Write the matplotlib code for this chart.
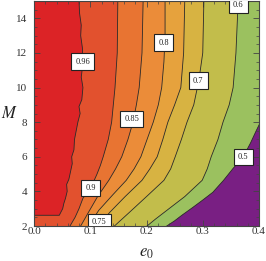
import matplotlib
matplotlib.use("Agg")
import matplotlib.pyplot as plt
from matplotlib.ticker import MultipleLocator

# contour levels (low -> high) and band colours above each level
levels = [0.5, 0.6, 0.7, 0.75, 0.8, 0.85, 0.9, 0.96]
below_color = "#791f83"
band_colors = ["#9bc15f", "#c2bd4b", "#d7b342", "#e6a23d", "#eb8c39",
               "#e87432", "#e2512e", "#dc2326"]

# contour lines: e0 positions at given M
line_050_e = [0.236, 0.250, 0.262, 0.283, 0.300, 0.318, 0.337, 0.354, 0.372, 0.385, 0.395,
              0.410, 0.430, 0.450]
line_050_m = [2.0, 2.3, 2.6, 3.09, 3.5, 3.95, 4.64, 5.33, 6.0, 6.8, 7.5,
              8.5, 11.0, 15.0]

line_060_e = [0.201, 0.216, 0.232, 0.250, 0.268, 0.299, 0.308, 0.315, 0.327, 0.336, 0.347,
              0.354, 0.359, 0.363]
line_060_m = [2.0, 2.4, 2.8, 3.25, 3.7, 4.64, 5.3, 6.0, 7.0, 8.0, 9.0,
              10.0, 12.0, 15.0]

line_070_e = [0.143, 0.170, 0.200, 0.231, 0.243, 0.251, 0.262, 0.272, 0.284, 0.293, 0.300, 0.302]
line_070_m = [2.0, 2.8, 3.7, 4.64, 5.3, 6.0, 7.0, 8.0, 9.0, 10.4, 12.0, 15.0]

line_075_e = [0.114, 0.135, 0.162, 0.192, 0.206, 0.219, 0.229, 0.238, 0.250, 0.261, 0.266, 0.268]
line_075_m = [2.0, 2.8, 3.7, 4.64, 5.3, 6.0, 7.0, 8.0, 9.0, 10.0, 12.0, 15.0]

line_080_e = [0.097, 0.115, 0.140, 0.164, 0.178, 0.190, 0.201, 0.212, 0.221, 0.227, 0.231, 0.233, 0.233]
line_080_m = [2.0, 2.9, 3.8, 4.64, 5.3, 6.0, 7.0, 8.0, 9.0, 10.0, 11.5, 13.0, 15.0]

line_085_e = [0.083, 0.097, 0.113, 0.133, 0.145, 0.156, 0.167, 0.176, 0.182, 0.187, 0.192, 0.194]
line_085_m = [2.0, 2.8, 3.7, 4.64, 5.3, 6.0, 7.0, 8.0, 9.0, 10.0, 12.0, 15.0]

line_090_e = [0.064, 0.073, 0.080, 0.087, 0.101, 0.112, 0.118, 0.123, 0.132, 0.138, 0.141,
              0.144, 0.146, 0.148, 0.149]
line_090_m = [2.0, 2.5, 3.0, 3.6, 4.2, 5.0, 5.5, 6.0, 7.0, 8.0, 9.0, 10.0, 11.0, 12.0, 15.0]

line_096_e = [0.000, 0.045, 0.047, 0.051, 0.053, 0.056, 0.059, 0.058, 0.062, 0.064, 0.066,
              0.068, 0.067, 0.071, 0.072, 0.075, 0.078, 0.082, 0.080, 0.085, 0.087, 0.084,
              0.087, 0.086, 0.083, 0.084, 0.081, 0.080]
line_096_m = [2.62, 2.62, 2.75, 3.0, 3.3, 3.6, 4.0, 4.4, 4.7, 5.0, 5.3,
              5.6, 6.0, 6.4, 7.0, 7.5, 8.0, 8.5, 8.9, 9.3, 10.0, 10.6,
              11.4, 12.3, 13.0, 13.6, 14.3, 15.0]

lines_e = [line_050_e, line_060_e, line_070_e, line_075_e, line_080_e,
           line_085_e, line_090_e, line_096_e]
lines_m = [line_050_m, line_060_m, line_070_m, line_075_m, line_080_m,
           line_085_m, line_090_m, line_096_m]

# contour label texts and where they sit
label_text = ["0.5", "0.6", "0.7", "0.75", "0.8", "0.85", "0.9", "0.96"]
label_e = [0.372, 0.363, 0.292, 0.116, 0.231, 0.174, 0.101, 0.087]
label_m = [6.0, 14.75, 10.4, 2.22, 12.6, 8.2, 4.2, 11.5]

x_ticks = [0.0, 0.1, 0.2, 0.3, 0.4]
y_ticks = [2, 4, 6, 8, 10, 12, 14]

plt.rcParams["mathtext.fontset"] = "stix"

fig = plt.figure(figsize=(2.66, 2.61), dpi=100)
ax = fig.add_axes([34 / 266, 35 / 261, 225 / 266, 225 / 261])
ax.set_xlim(0, 0.4)
ax.set_ylim(2, 15)

# purple background = everything below 0.5
ax.fill([0, 0.4, 0.4, 0], [2, 2, 15, 15], color=below_color, lw=0, zorder=0)

# stack the bands: each level fills everything left of its contour
for es, ms, c in zip(lines_e, lines_m, band_colors):
    px = list(es) + [0, 0]
    py = list(ms) + [ms[-1], ms[0]]
    ax.fill(px, py, color=c, lw=0, zorder=1)

for es, ms in zip(lines_e, lines_m):
    ax.plot(es, ms, color="#2a2a2a", lw=0.6, zorder=2)

for t, x, y in zip(label_text, label_e, label_m):
    ax.text(x, y, t, ha="center", va="center", fontsize=6,
            family="Liberation Serif", color="#222222", zorder=3, clip_on=True,
            bbox=dict(boxstyle="square,pad=0.5", fc="white", ec="#222222", lw=0.8))

ax.set_xticks(x_ticks)
ax.set_xticklabels([f"{v:.1f}" for v in x_ticks])
ax.set_yticks(y_ticks)
ax.xaxis.set_minor_locator(MultipleLocator(0.02))
ax.yaxis.set_minor_locator(MultipleLocator(0.5))
ax.tick_params(which="both", direction="in", top=True, right=True, color="#444444")
ax.tick_params(which="major", length=4, width=0.6)
ax.tick_params(which="minor", length=2, width=0.5)
ax.tick_params(axis="x", pad=1)
ax.tick_params(axis="y", pad=5)
for lab in ax.get_xticklabels() + ax.get_yticklabels():
    lab.set_family("Liberation Serif")
    lab.set_fontsize(8)
    lab.set_color("#333333")
for s in ax.spines.values():
    s.set_color("#444444")
    s.set_linewidth(0.8)

ax.text(-0.11, 0.50, "$M$", transform=ax.transAxes, fontsize=12,
        ha="center", va="center", color="#222222")
ax.text(0.498, -0.115, "$e_0$", transform=ax.transAxes, fontsize=12,
        ha="center", va="center", color="#222222")

fig.savefig("out.png", dpi=100)
